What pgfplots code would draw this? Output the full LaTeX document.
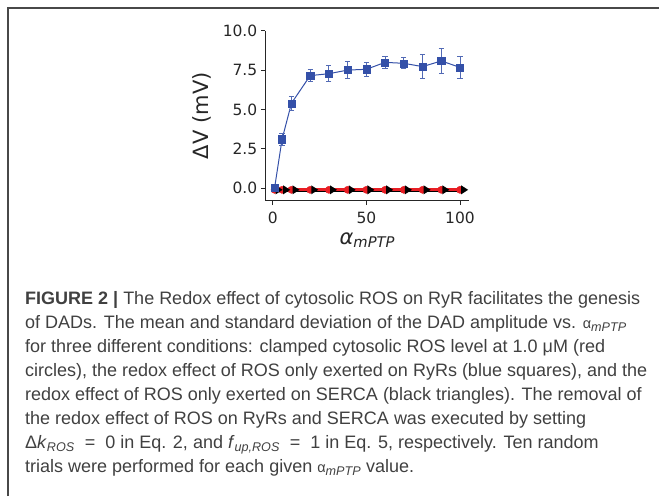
\documentclass[border=0pt]{standalone}
\usepackage{fontspec}
\setmainfont{Liberation Sans}
\newfontfamily\djv{DejaVu Sans}
\usepackage{pgfplots}
\pgfplotsset{compat=1.18}

\definecolor{sqblue}{RGB}{52,80,168}
\definecolor{cred}{RGB}{232,30,36}
\definecolor{captxt}{RGB}{64,64,64}
\definecolor{framec}{RGB}{72,72,72}

% right-pointing triangle, drawn ahead of its point
\pgfdeclareplotmark{rtri}{%
  \pgfpathmoveto{\pgfqpoint{1.8\pgfplotmarksize}{0pt}}%
  \pgfpathlineto{\pgfqpoint{0.25\pgfplotmarksize}{\pgfplotmarksize}}%
  \pgfpathlineto{\pgfqpoint{0.25\pgfplotmarksize}{-\pgfplotmarksize}}%
  \pgfpathclose\pgfusepathqfill}

\newcommand{\capfont}{\fontsize{18}{24}\selectfont\color{captxt}}
\newcommand{\alf}{{\fontsize{14.5}{24}\selectfont α}}

\begin{document}
\begin{tikzpicture}
\path[use as bounding box] (0pt,0pt) rectangle (659pt,496pt);
% frame of the figure box
\draw[framec, line width=2pt] (8.3pt,0pt) -- (8.3pt,487.7pt) -- (659pt,487.7pt);

\begin{axis}[
    at={(265.3pt,295.3pt)}, anchor=south west,
    scale only axis, width=204pt, height=170pt,
    xmin=-3.95, xmax=104.95,
    ymin=-0.79, ymax=10,
    axis x line*=bottom, axis y line*=left,
    axis line style={black!85, line width=1.1pt},
    tick align=outside, major tick length=4.5pt,
    tick style={black!85, line width=1pt},
    xtick={0,50,100},
    ytick={0,2.5,5,7.5,10},
    /pgf/number format/assume math mode=true,
    ticklabel style={font=\djv\fontsize{15.5}{18}\selectfont, text=black!85},
    xticklabel style={yshift=-3pt},
    yticklabel style={/pgf/number format/.cd, fixed, fixed zerofill, precision=1},
    xlabel={\djv\itshape α\textsubscript{mPTP}},
    ylabel={\djv ΔV (mV)},
    label style={font=\fontsize{21}{24}\selectfont, text=black!85},
    xlabel style={at={(axis description cs:0.5,-0.255)}, anchor=base},
    ylabel style={at={(axis description cs:-0.31,0.5)}, anchor=center},
    ]
% black line (SERCA only), under the red one
\addplot[black, line width=1.3pt, mark=none]
    coordinates {(1,-0.22)(5,-0.22)(10,-0.22)(20,-0.22)(30,-0.22)(40,-0.22)
                 (50,-0.22)(60,-0.22)(70,-0.22)(80,-0.22)(90,-0.22)(100,-0.22)};
% red circles (clamped ROS)
\addplot[cred, line width=3.2pt, mark=*, mark size=3.6pt,
         mark options={fill=cred, line width=0.4pt}]
    coordinates {(1,-0.1)(5,-0.1)(10,-0.1)(20,-0.1)(30,-0.1)(40,-0.1)
                 (50,-0.1)(60,-0.1)(70,-0.1)(80,-0.1)(90,-0.1)(100,-0.1)};
% black triangles (SERCA only)
\addplot[black, only marks, mark=rtri, mark size=4.5pt]
    coordinates {(1,-0.1)(5,-0.1)(10,-0.1)(20,-0.1)(30,-0.1)(40,-0.1)
                 (50,-0.1)(60,-0.1)(70,-0.1)(80,-0.1)(90,-0.1)(100,-0.1)};
% blue squares (RyR only)
\addplot[sqblue, line width=1pt, mark=square*, mark size=3.6pt,
         mark options={fill=sqblue, line width=0.4pt},
         error bars/.cd, y dir=both, y explicit,
         error bar style={sqblue!85, line width=0.9pt},
         error mark options={sqblue!85, line width=0.9pt, mark size=2.6pt, rotate=90}]
    coordinates {
    (1,0.02) +- (0,0.05)
    (5,3.11) +- (0,0.40)
    (10,5.39) +- (0,0.45)
    (20,7.15) +- (0,0.40)
    (30,7.27) +- (0,0.50)
    (40,7.50) +- (0,0.53)
    (50,7.55) +- (0,0.45)
    (60,7.99) +- (0,0.36)
    (70,7.93) +- (0,0.35)
    (80,7.72) +- (0,0.78)
    (90,8.08) +- (0,0.79)
    (100,7.67) +- (0,0.68)
    };
\end{axis}

% caption
\node[anchor=base west, inner sep=0pt] at (25pt,191.7pt) {\capfont\textbf{FIGURE 2 |} The Redox effect of cytosolic ROS on RyR facilitates the genesis};
\node[anchor=base west, inner sep=0pt] at (25pt,167.7pt) {\capfont of DADs. The mean and standard deviation of the DAD amplitude vs. \alf\textsubscript{\textit{mPTP}}};
\node[anchor=base west, inner sep=0pt] at (25pt,143.7pt) {\capfont for three different conditions: clamped cytosolic ROS level at 1.0 μM (red};
\node[anchor=base west, inner sep=0pt] at (25pt,119.7pt) {\capfont circles), the redox effect of ROS only exerted on RyRs (blue squares), and the};
\node[anchor=base west, inner sep=0pt] at (25pt,95.7pt) {\capfont redox effect of ROS only exerted on SERCA (black triangles). The removal of};
\node[anchor=base west, inner sep=0pt] at (25pt,71.7pt) {\capfont the redox effect of ROS on RyRs and SERCA was executed by setting};
\node[anchor=base west, inner sep=0pt] at (25pt,47.7pt) {\capfont Δ\textit{k}\textsubscript{\textit{ROS}}\ \ =\ \ 0 in Eq. 2, and \textit{f}\textsubscript{\textit{up,ROS}}\ \ =\ \ 1 in Eq. 5, respectively. Ten random};
\node[anchor=base west, inner sep=0pt] at (25pt,23.7pt) {\capfont trials were performed for each given \alf\textsubscript{\textit{mPTP}} value.};
\end{tikzpicture}
\end{document}
